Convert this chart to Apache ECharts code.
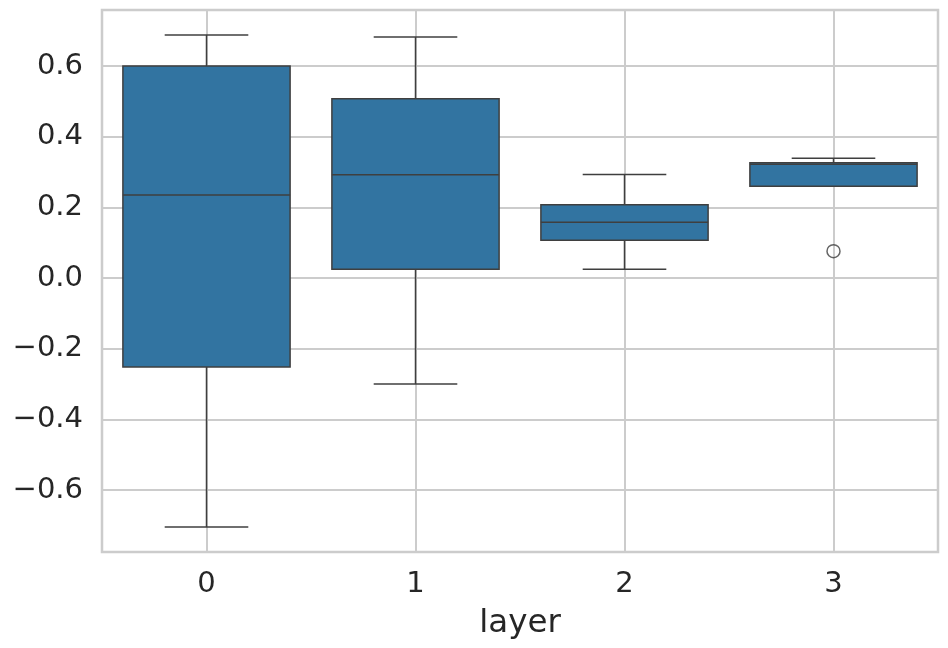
<!DOCTYPE html>
<html>
<head>
<meta charset="utf-8">
<script src="https://cdn.jsdelivr.net/npm/echarts@6/dist/echarts.min.js"></script>
<style>html,body{margin:0;padding:0;background:#fff;}#c{width:948px;height:648px;}</style>
</head>
<body>
<div id="c"></div>
<script>
const categories = ['0', '1', '2', '3'];
const lowWhisker = [-0.705, -0.300, 0.025, 0.260];
const q1 = [-0.252, 0.025, 0.107, 0.260];
const median = [0.235, 0.292, 0.158, 0.322];
const q3 = [0.600, 0.507, 0.207, 0.326];
const highWhisker = [0.688, 0.682, 0.293, 0.339];
const outliers = [[3, 0.076]];

const boxData = categories.map((c, i) => [i, lowWhisker[i], q1[i], median[i], q3[i], highWhisker[i]]);
const lineColor = '#3f3f3f';
const fillColor = '#3274a1';
const font = 'DejaVu Sans';

function renderBox(params, api) {
  const x = api.value(0);
  const band = api.size([1, 0])[0];
  const bw = band * 0.8;
  const cw = bw * 0.5;
  const pLow = api.coord([x, api.value(1)]);
  const pQ1 = api.coord([x, api.value(2)]);
  const pMed = api.coord([x, api.value(3)]);
  const pQ3 = api.coord([x, api.value(4)]);
  const pHigh = api.coord([x, api.value(5)]);
  const cx = pMed[0];
  const ls = { stroke: lineColor, lineWidth: 1.5 };
  return {
    type: 'group',
    children: [
      { type: 'line', shape: { x1: cx, y1: pQ1[1], x2: cx, y2: pLow[1] }, style: ls },
      { type: 'line', shape: { x1: cx, y1: pQ3[1], x2: cx, y2: pHigh[1] }, style: ls },
      { type: 'line', shape: { x1: cx - cw / 2, y1: pLow[1], x2: cx + cw / 2, y2: pLow[1] }, style: ls },
      { type: 'line', shape: { x1: cx - cw / 2, y1: pHigh[1], x2: cx + cw / 2, y2: pHigh[1] }, style: ls },
      { type: 'rect', shape: { x: cx - bw / 2, y: pQ3[1], width: bw, height: pQ1[1] - pQ3[1] },
        style: { fill: fillColor, stroke: lineColor, lineWidth: 1.5 } },
      { type: 'line', shape: { x1: cx - bw / 2, y1: pMed[1], x2: cx + bw / 2, y2: pMed[1] }, style: ls }
    ]
  };
}

const chart = echarts.init(document.getElementById('c'), null, { renderer: 'canvas' });
chart.setOption({
  animation: false,
  backgroundColor: '#ffffff',
  grid: { left: 102, right: 10, top: 10, bottom: 96, show: true, borderColor: '#cccccc', borderWidth: 2.5, backgroundColor: 'transparent' },
  xAxis: {
    type: 'category',
    data: categories,
    name: 'layer',
    nameLocation: 'middle',
    nameGap: 55,
    nameTextStyle: { fontFamily: font, fontSize: 32.5, color: '#262626' },
    axisLine: { show: false },
    axisTick: { show: false, alignWithLabel: true },
    axisLabel: { fontFamily: font, fontSize: 29, color: '#262626', margin: 18 },
    splitLine: { show: true, alignWithLabel: true, lineStyle: { color: '#cccccc', width: 2 } }
  },
  yAxis: {
    type: 'value',
    min: -0.7755,
    max: 0.7585,
    splitNumber: 7,
    axisLine: { show: false },
    axisTick: { show: false },
    axisLabel: {
      fontFamily: font, fontSize: 29, color: '#262626', margin: 19,
      showMinLabel: false, showMaxLabel: false,
      formatter: v => (v < -1e-9 ? '\u2212' : '') + Math.abs(v).toFixed(1)
    },
    splitLine: { show: true, lineStyle: { color: '#cccccc', width: 2 } }
  },
  series: [
    {
      type: 'custom',
      renderItem: renderBox,
      data: boxData,
      encode: { x: 0, y: [1, 2, 3, 4, 5] },
      z: 3
    },
    {
      type: 'scatter',
      data: outliers,
      symbol: 'circle',
      symbolSize: 13,
      itemStyle: { color: 'transparent', borderColor: lineColor, borderWidth: 1.5 },
      z: 4
    }
  ]
});
</script>
</body>
</html>
